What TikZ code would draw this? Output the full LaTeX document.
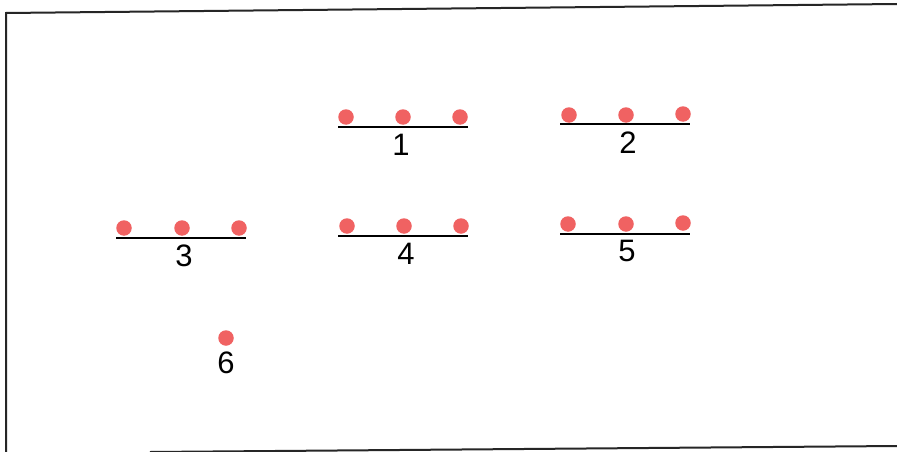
\documentclass[tikz,border=0pt]{standalone}
\usepackage{fontspec}
\setmainfont{Liberation Sans}
\definecolor{dotred}{HTML}{F06262}
\begin{document}
\begin{tikzpicture}[x=1pt,y=-1pt,
  dot/.style={circle,fill=dotred,draw=none,minimum size=15.5pt,inner sep=0pt},
  bar/.style={line width=2pt,black},
  lab/.style={font=\fontsize{31}{32}\selectfont,text=black,inner sep=0pt},
  frame/.style={line width=2pt,black!85}]
\useasboundingbox[fill=white] (0,0) rectangle (897,452);
% frame
\coordinate (fTL) at (6,13);
\coordinate (fTR) at (897,4);
\coordinate (fBL) at (6,452);
\coordinate (fBR) at (897,446);
\draw[frame] (fTR) -- (fTL) -- (fBL);
\coordinate (fBM) at (150,452);
\draw[frame] (fBM) -- (fBR);
% group 1
\node[dot] (d1a) at (346,117) {};
\node[dot] (d1b) at (403,117) {};
\node[dot] (d1c) at (460,117) {};
\coordinate (l1a) at (338,127); \coordinate (l1b) at (468,127);
\draw[bar] (l1a) -- (l1b);
\node[lab] (t1) at (401,145) {1};
% group 2
\node[dot] (d2a) at (569,115) {};
\node[dot] (d2b) at (626,115) {};
\node[dot] (d2c) at (683,114) {};
\coordinate (l2a) at (560,124); \coordinate (l2b) at (690,124);
\draw[bar] (l2a) -- (l2b);
\node[lab] (t2) at (628,143) {2};
% group 3
\node[dot] (d3a) at (124,228) {};
\node[dot] (d3b) at (182,228) {};
\node[dot] (d3c) at (239,228) {};
\coordinate (l3a) at (116,238); \coordinate (l3b) at (246,238);
\draw[bar] (l3a) -- (l3b);
\node[lab] (t3) at (184,256) {3};
% group 4
\node[dot] (d4a) at (347,226) {};
\node[dot] (d4b) at (404,226) {};
\node[dot] (d4c) at (461,226) {};
\coordinate (l4a) at (338,236); \coordinate (l4b) at (468,236);
\draw[bar] (l4a) -- (l4b);
\node[lab] (t4) at (406,254) {4};
% group 5
\node[dot] (d5a) at (568,224) {};
\node[dot] (d5b) at (626,224) {};
\node[dot] (d5c) at (683,223) {};
\coordinate (l5a) at (560,234); \coordinate (l5b) at (690,234);
\draw[bar] (l5a) -- (l5b);
\node[lab] (t5) at (627,251) {5};
% 6
\node[dot] (d6) at (226,338) {};
\node[lab] (t6) at (226,363) {6};
\end{tikzpicture}
\end{document}
